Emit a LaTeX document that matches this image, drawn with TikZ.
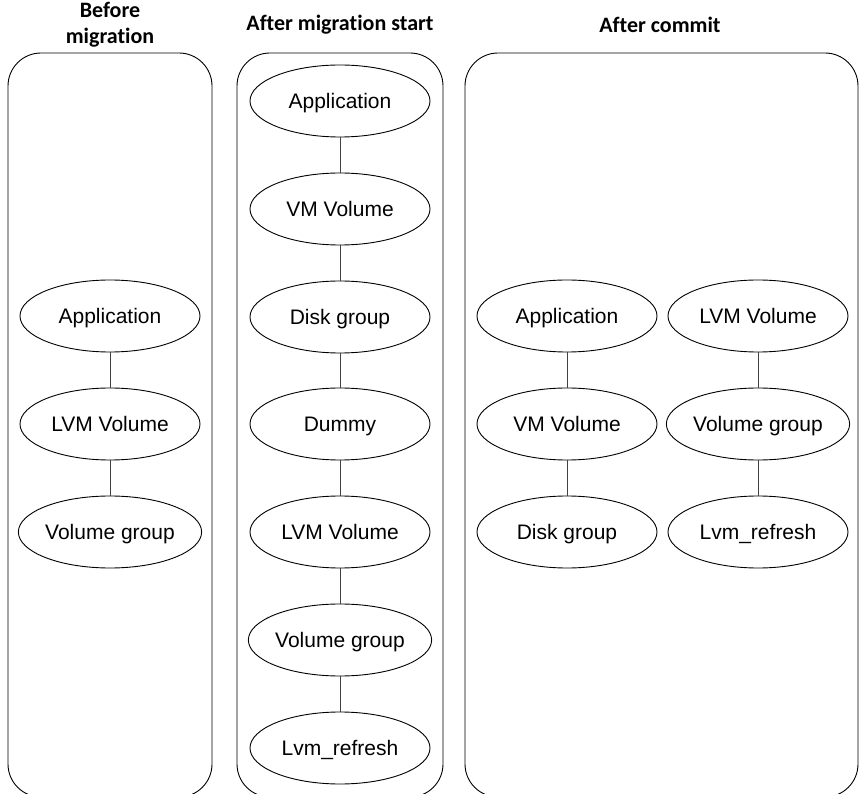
\documentclass[tikz,border=0pt]{standalone}
\usepackage{fontspec}
\setmainfont{Liberation Sans}
\newfontfamily\headfont[Ligatures=NoCommon]{Carlito}
\usetikzlibrary{shapes.geometric}

\tikzset{
  stage/.style={draw, rounded corners=33pt, line width=0.9pt},
  blob/.style={draw, ellipse, minimum width=180pt, minimum height=72pt, inner sep=0pt,
    line width=0.9pt, font=\fontsize{21}{25}\selectfont, text height=15pt, text depth=0pt},
  link/.style={draw=black!75, line width=0.9pt},
  caption/.style={font=\headfont\bfseries\fontsize{22}{26}\selectfont, align=center}
}

\begin{document}
\begin{tikzpicture}[x=1pt,y=-1pt]
\useasboundingbox (0,0) rectangle (863,794);
\clip (0,0) rectangle (863,794);

% stages
\draw[stage] (8,53) rectangle (212,797);
\draw[stage] (237,53) rectangle (443,797);
\draw[stage] (465,53) rectangle (858,797);

\node[caption] (hbefore) at (110,25) {Before\\migration};
\node[caption] (hstart) at (340,25) {After migration start};
\node[caption] (hcommit) at (660,25) {After commit};

% before migration
\node[blob] (pre-app) at (110,316) {Application};
\node[blob] (pre-lvm) at (110,424) {LVM Volume};
\node[blob] (pre-vg) at (110,532) {Volume group};

% after migration start
\node[blob] (mid-app) at (340,101) {Application};
\node[blob] (mid-vm) at (340,209) {VM Volume};
\node[blob] (mid-dg) at (340,317) {Disk group};
\node[blob] (mid-dummy) at (340,424) {Dummy};
\node[blob] (mid-lvm) at (340,532) {LVM Volume};
\node[blob] (mid-vg) at (340,640) {Volume group};
\node[blob] (mid-ref) at (340,748) {Lvm\_refresh};

% after commit
\node[blob] (post-app) at (567,316) {Application};
\node[blob] (post-vm) at (567,424) {VM Volume};
\node[blob] (post-dg) at (567,532) {Disk group};
\node[blob] (post-lvm) at (758,316) {LVM Volume};
\node[blob] (post-vg) at (758,424) {Volume group};
\node[blob] (post-ref) at (758,532) {Lvm\_refresh};

\foreach \a/\b in {pre-app/pre-lvm, pre-lvm/pre-vg,
    mid-app/mid-vm, mid-vm/mid-dg, mid-dg/mid-dummy, mid-dummy/mid-lvm,
    mid-lvm/mid-vg, mid-vg/mid-ref,
    post-app/post-vm, post-vm/post-dg, post-lvm/post-vg, post-vg/post-ref}
  \draw[link] (\a) -- (\b);
\end{tikzpicture}
\end{document}
